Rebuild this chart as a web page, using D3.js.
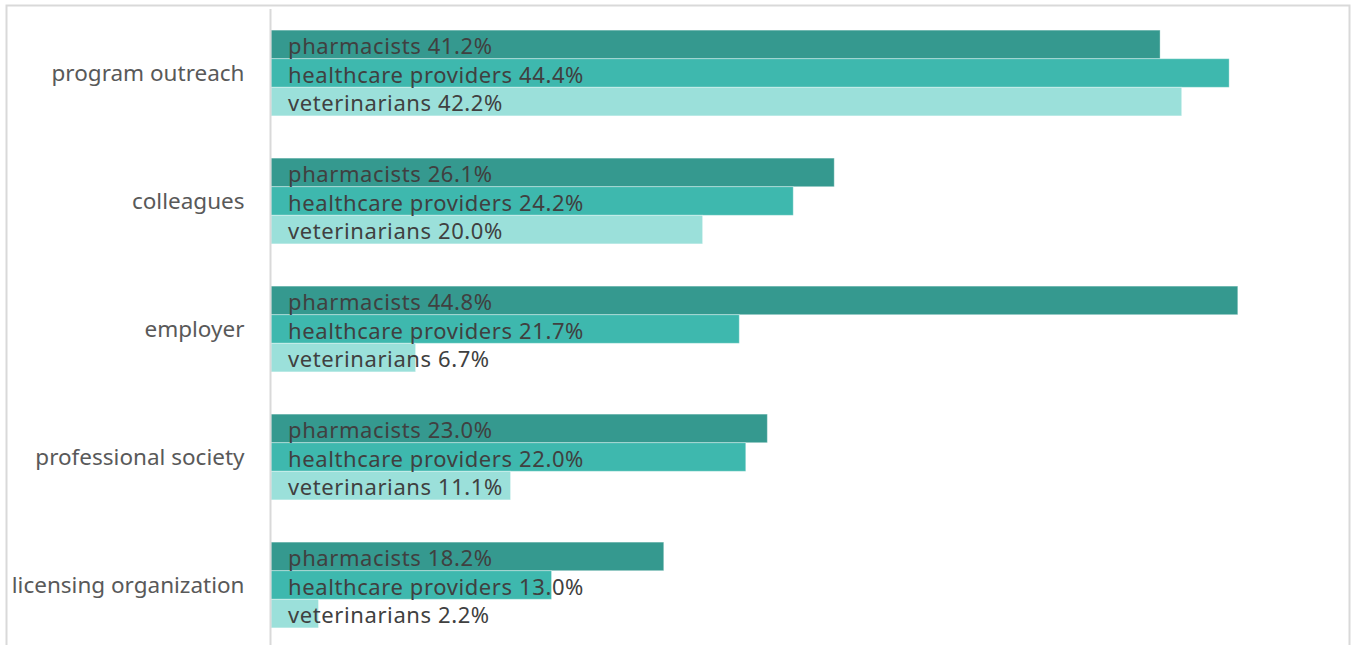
<!DOCTYPE html>
<html>
<head>
<meta charset="utf-8">
<script src="https://cdn.jsdelivr.net/npm/d3@7"></script>
<style>
  html, body { margin: 0; padding: 0; background: #fff; }
  svg { display: block; }
</style>
</head>
<body>
<svg id="chart" width="1354" height="645"></svg>
<script>
// Information sources, share of respondents by profession
const categories = ["program outreach", "colleagues", "employer", "professional society", "licensing organization"];
const seriesNames = ["pharmacists", "healthcare providers", "veterinarians"];
const pharmacists = [41.2, 26.1, 44.8, 23.0, 18.2];
const healthcareProviders = [44.4, 24.2, 21.7, 22.0, 13.0];
const veterinarians = [42.2, 20.0, 6.7, 11.1, 2.2];
const seriesColors = ["#35998f", "#3eb8ae", "#9be0da"];

const seriesValues = [pharmacists, healthcareProviders, veterinarians];
const rows = [];
categories.forEach((c, i) => {
  seriesNames.forEach((s, j) => {
    rows.push({ category: c, series: s, value: seriesValues[j][i], color: seriesColors[j] });
  });
});

const svg = d3.select("#chart");
const W = 1354, H = 645;
const FONT = "'Noto Sans', 'Open Sans', sans-serif";

// outer frame
svg.append("rect")
  .attr("x", 6.5).attr("y", 5.5)
  .attr("width", 1343).attr("height", 660)
  .attr("fill", "#fff")
  .attr("stroke", "#d9d9d9").attr("stroke-width", 2);

const x = d3.scaleLinear().domain([0, 50]).range([271, 1350]);
const y0 = d3.scaleBand().domain(categories).range([9, 649])
  .paddingInner(0.33).paddingOuter(0.165);
const y1 = d3.scaleBand().domain(seriesNames).range([0, y0.bandwidth()]);

// bars
const g = svg.append("g");
g.selectAll("rect.bar").data(rows).join("rect")
  .attr("class", "bar")
  .attr("x", x(0))
  .attr("y", d => y0(d.category) + y1(d.series))
  .attr("width", d => x(d.value) - x(0))
  .attr("height", y1.bandwidth())
  .attr("fill", d => d.color)
  .attr("stroke", "rgba(255,255,255,0.35)")
  .attr("stroke-width", 1);

// value labels inside the bars
g.selectAll("text.lbl").data(rows).join("text")
  .attr("class", "lbl")
  .attr("x", x(0) + 17)
  .attr("y", d => y0(d.category) + y1(d.series) + y1.bandwidth() / 2 + 9.5)
  .attr("font-family", FONT)
  .attr("font-size", 22)
  .attr("letter-spacing", 0.6)
  .attr("fill", "#404040")
  .text(d => `${d.series} ${d.value.toFixed(1)}%`);

// category axis
const axis = d3.axisLeft(y0).tickSize(0).tickPadding(26);
const ax = svg.append("g").attr("transform", `translate(${x(0) - 0.5},0)`).call(axis);
ax.select(".domain").attr("stroke", "#d9d9d9").attr("stroke-width", 2)
  .attr("d", `M0,9V${H + 10}`);
ax.selectAll(".tick text")
  .attr("font-family", FONT)
  .attr("font-size", 22.5)
  .attr("fill", "#595959")
  .attr("dy", "0.35em");
</script>
</body>
</html>
